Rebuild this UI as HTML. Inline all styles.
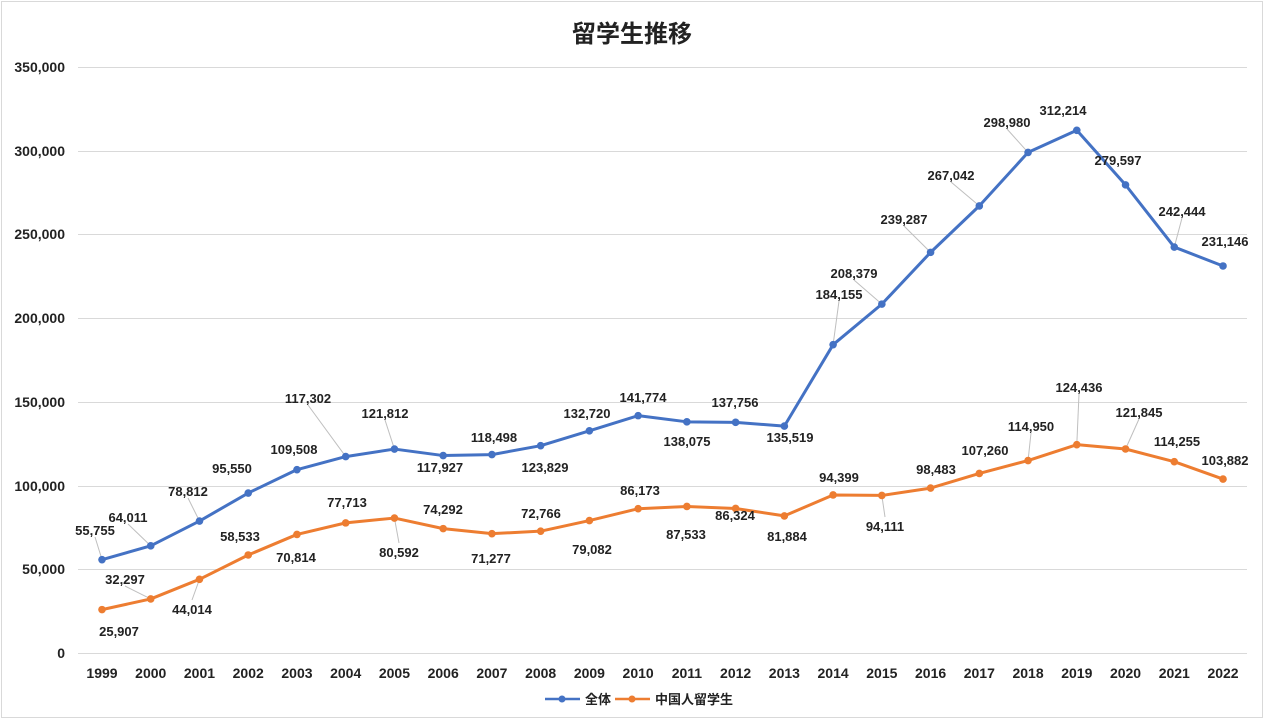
<!DOCTYPE html>
<html><head><meta charset="utf-8"><style>
html,body{margin:0;padding:0;background:#fff;}
svg{display:block;font-family:"Liberation Sans","Noto Sans CJK JP",sans-serif;}
.l{font-size:13px;font-weight:bold;fill:#222;text-anchor:middle;}
.ax{font-size:14px;font-weight:bold;fill:#222;}
</style></head><body>
<svg width="1265" height="721" viewBox="0 0 1265 721">
<rect x="1.5" y="1.5" width="1261" height="716" fill="#fff" stroke="#d9d9d9"/>
<text x="632" y="42" font-size="24" font-weight="bold" text-anchor="middle" fill="#222">留学生推移</text>
<g stroke="#d9d9d9" stroke-width="1">
<line x1="78" x2="1247" y1="67.5" y2="67.5"/><line x1="78" x2="1247" y1="151.5" y2="151.5"/>
<line x1="78" x2="1247" y1="234.5" y2="234.5"/><line x1="78" x2="1247" y1="318.5" y2="318.5"/>
<line x1="78" x2="1247" y1="402.5" y2="402.5"/><line x1="78" x2="1247" y1="486.5" y2="486.5"/>
<line x1="78" x2="1247" y1="569.5" y2="569.5"/><line x1="78" x2="1247" y1="653.5" y2="653.5"/>
</g>
<g class="ax" text-anchor="end">
<text x="65" y="72">350,000</text><text x="65" y="156">300,000</text><text x="65" y="239">250,000</text>
<text x="65" y="323">200,000</text><text x="65" y="407">150,000</text><text x="65" y="491">100,000</text>
<text x="65" y="574">50,000</text><text x="65" y="658">0</text>
</g>
<g class="ax" text-anchor="middle" id="xl"></g>
<g id="plot"></g>
<g>
<line x1="545" x2="580" y1="699" y2="699" stroke="#4472c4" stroke-width="2.5"/><circle cx="562" cy="699" r="3.5" fill="#4472c4"/>
<text x="585" y="704" font-size="13" font-weight="bold" fill="#222">全体</text>
<line x1="615" x2="650" y1="699" y2="699" stroke="#ed7d31" stroke-width="2.5"/><circle cx="632" cy="699" r="3.5" fill="#ed7d31"/>
<text x="655" y="704" font-size="13" font-weight="bold" fill="#222">中国人留学生</text>
</g>
</svg>
<script>
var ns="http://www.w3.org/2000/svg";
function X(i){return 102+i*48.74;}
function Y(v){return 653-v*586/350000;}
var xl=document.getElementById('xl');
for(var i=0;i<24;i++){var t=document.createElementNS(ns,'text');t.setAttribute('x',X(i));t.setAttribute('y',678);t.textContent=1999+i;xl.appendChild(t);}
var b=[55755,64011,78812,95550,109508,117302,121812,117927,118498,123829,132720,141774,138075,137756,135519,184155,208379,239287,267042,298980,312214,279597,242444,231146];
var o=[25907,32297,44014,58533,70814,77713,80592,74292,71277,72766,79082,86173,87533,86324,81884,94399,94111,98483,107260,114950,124436,121845,114255,103882];
var bl=[[95,530],[128,517],[188,491],[232,468],[294,449],[308,398],[385,413],[440,467],[494,437],[545,467],[587,413],[643,397],[687,441],[735,402],[790,437],[839,294],[854,273],[904,219],[951,175],[1007,122],[1063,110],[1118,160],[1182,211],[1225,241]];
var ol=[[119,631],[125,579],[192,609],[240,536],[296,557],[347,502],[399,552],[443,509],[491,558],[541,513],[592,549],[640,490],[686,534],[735,515],[787,536],[839,477],[885,526],[936,469],[985,450],[1031,426],[1079,387],[1139,412],[1177,441],[1225,460]];
var p=document.getElementById('plot');
function series(d,lab,c){
 for(var i=0;i<24;i++){var x=X(i),y=Y(d[i]),lx=lab[i][0],ly=lab[i][1];
  if(Math.hypot(lx-x,ly-y)>30){var ln=document.createElementNS(ns,'line');ln.setAttribute('x1',x);ln.setAttribute('y1',y);ln.setAttribute('x2',lx);ln.setAttribute('y2',ly+(ly<y?7:-9));ln.setAttribute('stroke','#bfbfbf');p.appendChild(ln);}
 }
 var pts=d.map(function(v,i){return X(i)+','+Y(v);}).join(' ');
 var pl=document.createElementNS(ns,'polyline');pl.setAttribute('points',pts);pl.setAttribute('fill','none');pl.setAttribute('stroke',c);pl.setAttribute('stroke-width','3');pl.setAttribute('stroke-linejoin','round');p.appendChild(pl);
 for(var i=0;i<24;i++){var ci=document.createElementNS(ns,'circle');ci.setAttribute('cx',X(i));ci.setAttribute('cy',Y(d[i]));ci.setAttribute('r',3.8);ci.setAttribute('fill',c);p.appendChild(ci);
  var t=document.createElementNS(ns,'text');t.setAttribute('class','l');t.setAttribute('x',lab[i][0]);t.setAttribute('y',lab[i][1]+5);t.textContent=d[i].toLocaleString('en-US');p.appendChild(t);}
}
series(b,bl,'#4472c4');series(o,ol,'#ed7d31');
</script>
</body></html>
